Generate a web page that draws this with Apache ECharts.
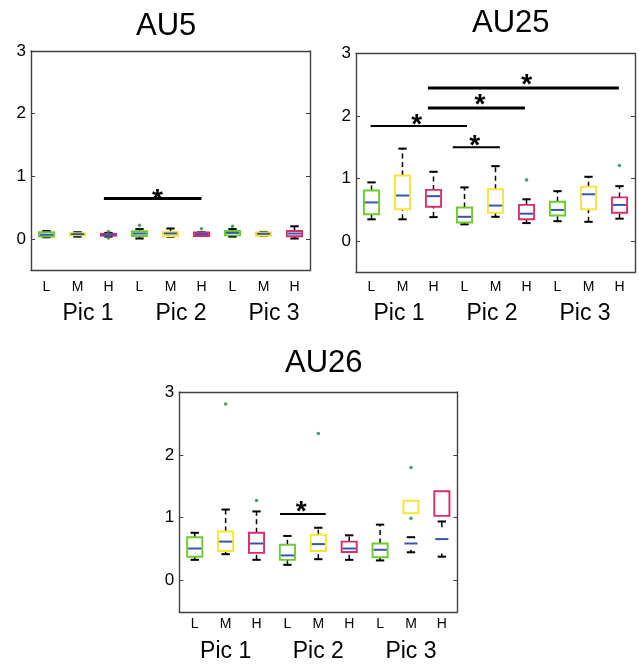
<!DOCTYPE html>
<html>
<head>
<meta charset="utf-8">
<script src="https://cdn.jsdelivr.net/npm/echarts@6/dist/echarts.min.js"></script>
<style>
html, body { margin: 0; padding: 0; background: #fff; }
#main { width: 639px; height: 665px; }
</style>
</head>
<body>
<div id="main"></div>
<script>
// categories
var levels = ['L', 'M', 'H', 'L', 'M', 'H', 'L', 'M', 'H'];
var pics = ['Pic 1', 'Pic 2', 'Pic 3'];
var yTicks = [0, 1, 2, 3];

// box stats: [min, q1, median, q3, max, (lower stem top), (upper stem bottom)]
var au5Boxes = [
    [0.03, 0.04, 0.07, 0.11, 0.13],
    [0.04, 0.06, 0.08, 0.095, 0.11],
    [0.04, 0.055, 0.07, 0.085, 0.10],
    [0.01, 0.05, 0.09, 0.125, 0.16],
    [0.04, 0.05, 0.09, 0.115, 0.17],
    [0.05, 0.05, 0.08, 0.105, 0.11],
    [0.04, 0.06, 0.10, 0.13, 0.16],
    [0.05, 0.055, 0.085, 0.105, 0.115],
    [0.01, 0.045, 0.09, 0.13, 0.205]
];
// outliers: [category index, value]
var au5Outliers = [[2, 0.12], [2, 0.02], [3, 0.22], [5, 0.165], [6, 0.205]];
// significance bars: [from, to, value, width]
var au5Bars = [[1.85, 5.0, 0.65, 3]];
var au5Stars = [[3.58, 0.75]];

var au25Boxes = [
    [0.35, 0.43, 0.62, 0.81, 0.94],
    [0.35, 0.51, 0.73, 1.05, 1.48],
    [0.385, 0.55, 0.72, 0.82, 1.11],
    [0.27, 0.30, 0.39, 0.54, 0.86],
    [0.39, 0.455, 0.57, 0.83, 1.20],
    [0.29, 0.35, 0.44, 0.58, 0.67],
    [0.32, 0.41, 0.50, 0.63, 0.80],
    [0.31, 0.51, 0.75, 0.87, 1.03],
    [0.36, 0.455, 0.58, 0.70, 0.88]
];
var au25Outliers = [[5, 0.98], [8, 1.21]];
var au25Bars = [[1.82, 7.98, 2.45, 3], [1.82, 4.95, 2.13, 3], [-0.03, 3.08, 1.84, 2], [2.62, 4.14, 1.50, 2]];
var au25Stars = [[5.01, 2.62], [3.5, 2.30], [1.46, 1.98], [3.33, 1.65]];

var au26Boxes = [
    [0.33, 0.38, 0.51, 0.69, 0.76],
    [0.42, 0.47, 0.62, 0.78, 1.13],
    [0.33, 0.44, 0.59, 0.76, 1.10],
    [0.25, 0.33, 0.40, 0.57, 0.71],
    [0.34, 0.47, 0.58, 0.73, 0.84],
    [0.33, 0.455, 0.51, 0.62, 0.72],
    [0.32, 0.37, 0.49, 0.59, 0.89],
    [0.45, 1.07, 0.59, 1.27, 0.69, 0.49, 0.69],
    [0.38, 1.03, 0.66, 1.42, 0.94, 0.43, 0.85]
];
var au26Outliers = [[1, 2.81], [2, 1.275], [4, 2.34], [7, 1.80], [7, 0.99]];
var au26Bars = [[2.76, 4.24, 1.06, 2]];
var au26Stars = [[3.45, 1.21]];

var boxColors = ['#6ccb2a', '#f2e637', '#d92d68'];
var medianColor = '#3457ad';
var frameColor = '#404040';

var panels = [
    { title: 'AU5', boxes: au5Boxes, outliers: au5Outliers, bars: au5Bars, stars: au5Stars },
    { title: 'AU25', boxes: au25Boxes, outliers: au25Outliers, bars: au25Bars, stars: au25Stars },
    { title: 'AU26', boxes: au26Boxes, outliers: au26Outliers, bars: au26Bars, stars: au26Stars }
];
// plot rectangles and label placement
var rects = [
    { left: 31, top: 51, width: 279, height: 219.5, lmh: 10, pic: 31.5, picPad: [0, 0, 0, 21], tLeft: 136, tTop: 11 },
    { left: 356, top: 53.5, width: 279, height: 219, lmh: 8, pic: 29.5, picPad: [0, 7, 0, 0], tLeft: 472, tTop: 8 },
    { left: 179.3, top: 392, width: 278, height: 220, lmh: 5.5, pic: 28.5, picPad: 0, tLeft: 285, tTop: 348 }
];

var chart = echarts.init(document.getElementById('main'));

var grids = [], xAxes = [], yAxes = [], series = [], titles = [];

function seg(x1, y1, x2, y2, style) {
    return { type: 'line', shape: { x1: x1, y1: y1, x2: x2, y2: y2 }, style: style };
}

panels.forEach(function (p, k) {
    var r = rects[k];
    grids.push({ left: r.left, top: r.top, width: r.width, height: r.height });
    titles.push({
        text: p.title, left: r.tLeft, top: r.tTop, padding: 0,
        textStyle: { fontFamily: 'Liberation Sans', fontSize: 31, fontWeight: 'normal', color: '#000' }
    });
    // bottom L/M/H axis
    xAxes.push({
        type: 'category', gridIndex: k, position: 'bottom', data: levels,
        axisLine: { onZero: false, lineStyle: { color: frameColor, width: 1.4 } },
        axisTick: { inside: true, alignWithLabel: true, length: 4, lineStyle: { color: frameColor } },
        axisLabel: { fontFamily: 'Liberation Sans', fontSize: 14, color: '#000', margin: r.lmh, interval: 0 }
    });
    // top frame
    xAxes.push({
        type: 'category', gridIndex: k, position: 'top', data: levels,
        axisLine: { onZero: false, lineStyle: { color: frameColor, width: 1.4 } },
        axisTick: { inside: true, alignWithLabel: true, length: 4, lineStyle: { color: frameColor } },
        axisLabel: { show: false }
    });
    yAxes.push({
        type: 'value', gridIndex: k, position: 'left', min: -0.5, max: 3,
        axisLine: { show: true, onZero: false, lineStyle: { color: frameColor, width: 1.4 } },
        axisTick: { show: true, inside: true, length: 4, customValues: yTicks, lineStyle: { color: frameColor } },
        axisLabel: { customValues: yTicks, fontFamily: 'Liberation Sans', fontSize: 17, color: '#000', margin: 5 },
        splitLine: { show: false }
    });
    yAxes.push({
        type: 'value', gridIndex: k, position: 'right', min: -0.5, max: 3,
        axisLine: { show: true, onZero: false, lineStyle: { color: frameColor, width: 1.4 } },
        axisTick: { show: true, inside: true, length: 4, customValues: yTicks, lineStyle: { color: frameColor } },
        axisLabel: { show: false },
        splitLine: { show: false }
    });

    var xi = 2 * k, yi = 2 * k;
    var boxes = p.boxes;

    series.push({
        type: 'custom', xAxisIndex: xi, yAxisIndex: yi, silent: true,
        data: boxes.map(function (b, i) { return [i, b[2]]; }),
        encode: { x: 0, y: 1 },
        renderItem: function (params, api) {
            var i = params.dataIndex;
            var b = boxes[i];
            var band = api.size([1, 0])[0];
            var x = api.coord([i, 0])[0];
            var py = function (v) { return api.coord([i, v])[1]; };
            var half = band * 0.245, cap = band * 0.135;
            var loTop = b.length > 5 ? b[5] : b[1];
            var hiBot = b.length > 6 ? b[6] : b[3];
            var dash = { stroke: '#000', lineWidth: 1.5, lineDash: [5, 3.5] };
            var solid = { stroke: '#000', lineWidth: 2 };
            var ch = [];
            if (loTop > b[0]) ch.push(seg(x, py(b[0]), x, py(loTop), dash));
            if (b[4] > hiBot) ch.push(seg(x, py(hiBot), x, py(b[4]), dash));
            ch.push(seg(x - cap, py(b[0]), x + cap, py(b[0]), solid));
            ch.push(seg(x - cap, py(b[4]), x + cap, py(b[4]), solid));
            ch.push({
                type: 'rect',
                shape: { x: x - half, y: py(b[3]), width: half * 2, height: py(b[1]) - py(b[3]) },
                style: { fill: null, stroke: boxColors[i % 3], lineWidth: 1.9 }
            });
            ch.push(seg(x - half + 1, py(b[2]), x + half - 1, py(b[2]), { stroke: medianColor, lineWidth: 2 }));
            return { type: 'group', children: ch };
        },
        z: 3
    });

    series.push({
        type: 'scatter', xAxisIndex: xi, yAxisIndex: yi, silent: true,
        data: p.outliers, symbol: 'circle', symbolSize: 3.6,
        itemStyle: { color: '#1e8c3c' }, z: 4
    });

    var bars = p.bars;
    series.push({
        type: 'custom', xAxisIndex: xi, yAxisIndex: yi, silent: true,
        data: bars.map(function (b) { return [0, b[2]]; }),
        encode: { x: 0, y: 1 },
        renderItem: function (params, api) {
            var b = bars[params.dataIndex];
            var band = api.size([1, 0])[0];
            var p0 = api.coord([0, b[2]]);
            return seg(p0[0] + b[0] * band, p0[1], p0[0] + b[1] * band, p0[1], { stroke: '#000', lineWidth: b[3] });
        },
        z: 5
    });

    var stars = p.stars;
    series.push({
        type: 'custom', xAxisIndex: xi, yAxisIndex: yi, silent: true,
        data: stars.map(function (s) { return [0, s[1]]; }),
        encode: { x: 0, y: 1 },
        renderItem: function (params, api) {
            var s = stars[params.dataIndex];
            var band = api.size([1, 0])[0];
            var p0 = api.coord([0, s[1]]);
            return {
                type: 'text',
                x: p0[0] + s[0] * band, y: p0[1] + 8,
                style: {
                    text: '*', fill: '#000', fontSize: 28, fontWeight: 'bold', fontFamily: 'Liberation Sans',
                    align: 'center', verticalAlign: 'middle'
                }
            };
        },
        z: 5
    });
});

// separate grids carrying the Pic labels
panels.forEach(function (p, k) {
    var r = rects[k];
    grids.push({ left: r.left, top: r.top, width: r.width, height: r.height });
    xAxes.push({
        type: 'category', gridIndex: 3 + k, position: 'bottom', data: pics,
        axisLine: { show: false, onZero: false }, axisTick: { show: false },
        axisLabel: { fontFamily: 'Liberation Sans', fontSize: 23, color: '#000', margin: r.pic, padding: r.picPad }
    });
    yAxes.push({ type: 'value', gridIndex: 3 + k, show: false, min: -0.5, max: 3 });
});

chart.setOption({
    animation: false,
    backgroundColor: '#fff',
    title: titles,
    grid: grids,
    xAxis: xAxes,
    yAxis: yAxes,
    series: series
});
</script>
</body>
</html>
